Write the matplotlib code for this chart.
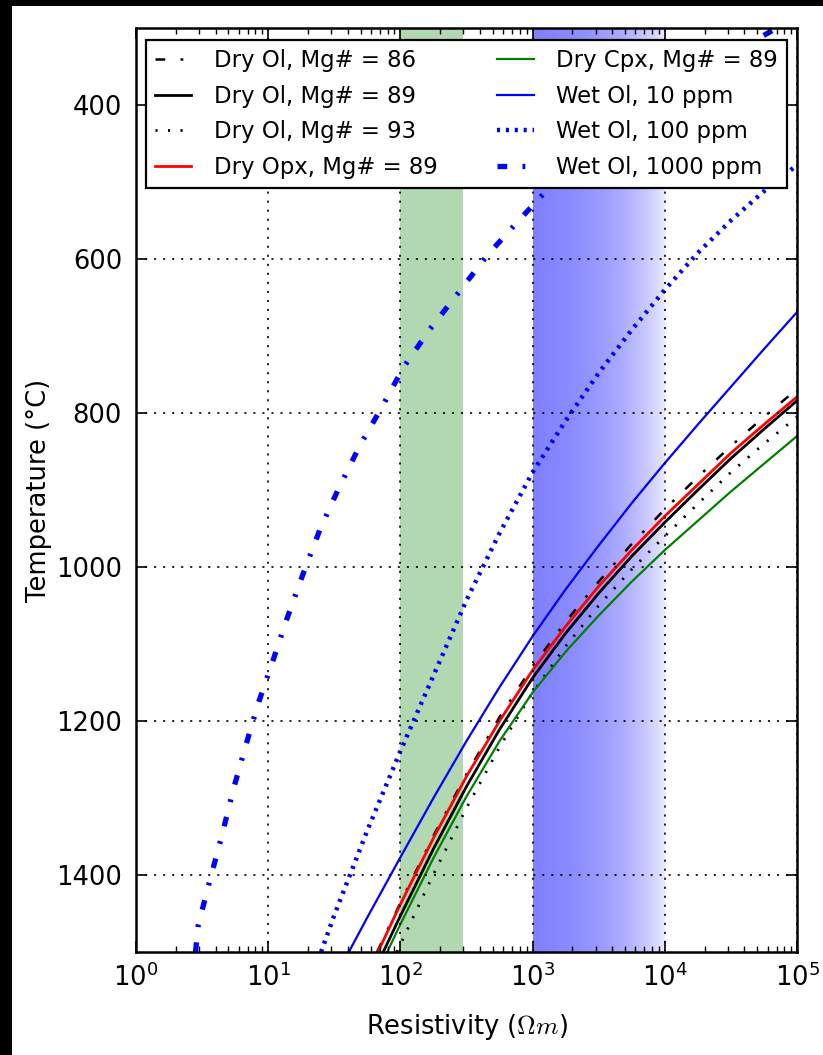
import numpy as np
import matplotlib
matplotlib.use('Agg')
import matplotlib.pyplot as plt
from matplotlib.patches import Rectangle

plt.rcParams['font.family'] = ['DejaVu Sans']
plt.rcParams['mathtext.fontset'] = 'cm'
plt.rcParams['lines.scale_dashes'] = False

# log10 resistivity (ohm m) and temperature (C) along each conductivity model
ol86_logrho = [1.823, 2.0, 2.25, 2.5, 2.75, 3.0, 3.25, 3.5, 3.75, 4.0, 4.25, 4.5, 4.75, 5.0]
ol86_T = [1500, 1436, 1349, 1269, 1195, 1129, 1071, 1019, 970, 925, 883, 843, 805, 769]

ol89_logrho = [1.87, 2.0, 2.25, 2.5, 2.75, 3.0, 3.25, 3.5, 3.75, 4.0, 4.25, 4.5, 4.75, 5.0]
ol89_T = [1500, 1453, 1366, 1285, 1211, 1144, 1086, 1034, 986, 942, 900, 859, 821, 784]

ol93_logrho = [1.973, 2.0, 2.25, 2.5, 2.75, 3.0, 3.25, 3.5, 3.75, 4.0, 4.25, 4.5, 4.75, 5.0]
ol93_T = [1500, 1490, 1399, 1313, 1234, 1163, 1103, 1050, 1003, 960, 918, 877, 840, 805]

opx89_logrho = [1.83, 2.0, 2.25, 2.5, 2.75, 3.0, 3.25, 3.5, 3.75, 4.0, 4.25, 4.5, 4.75, 5.0]
opx89_T = [1500, 1438, 1352, 1272, 1200, 1134, 1077, 1025, 978, 934, 893, 852, 815, 779]

cpx89_logrho = [1.90, 2.0, 2.25, 2.5, 2.75, 3.0, 3.25, 3.5, 3.75, 4.0, 4.25, 4.5, 4.75, 5.0]
cpx89_T = [1500, 1464, 1378, 1298, 1226, 1163, 1110, 1063, 1019, 978, 940, 902, 866, 830]

wet10_logrho = [1.61, 1.75, 2.0, 2.25, 2.5, 2.75, 3.0, 3.25, 3.5, 3.75, 4.0, 4.25, 4.5, 4.75, 5.0]
wet10_T = [1500, 1455, 1377, 1300, 1226, 1156, 1090, 1029, 972, 917, 865, 815, 766, 717, 669]

wet100_logrho = [1.4, 1.5, 1.75, 2.0, 2.25, 2.5, 2.75, 3.0, 3.25, 3.5, 3.75, 4.0, 4.25, 4.5, 4.75, 5.0]
wet100_T = [1500, 1452, 1342, 1239, 1141, 1043, 956, 877, 810, 748, 692, 640, 592, 550, 512, 478]

wet1000_logrho = [0.45, 0.471, 0.560, 0.648, 0.736, 0.825, 0.925, 1.039, 1.140, 1.266, 1.392,
                  1.530, 1.694, 1.858, 2.022, 2.224, 2.438, 2.653, 2.879, 3.117, 3.5, 4.0,
                  4.5, 4.85]
wet1000_T = [1500, 1465, 1406, 1350, 1289, 1235, 1177, 1120, 1068, 1008, 951,
             899, 842, 793, 741, 691, 644, 596, 553, 509, 448, 385,
             333, 300]

# resistivity windows
green_band = (100, 300)
blue_band = (1000, 10000)

fig = plt.figure(figsize=(8.23, 10.55), dpi=100, facecolor='black')
fig.add_artist(Rectangle((12 / 823, 0), 1 - 12 / 823, 1 - 6 / 1055,
                         transform=fig.transFigure, facecolor='white',
                         edgecolor='none', zorder=-10))

ax = fig.add_axes([136 / 823, 103 / 1055, 661 / 823, 924 / 1055])
ax.set_xscale('log')

ax.axvspan(*green_band, color='g', alpha=0.3, lw=0, zorder=1)

# blue band fading out towards higher resistivity
grad = np.zeros((1, 256, 4))
grad[..., 2] = 1.0
grad[..., 3] = np.linspace(0.5, 0.08, 256)
ax.imshow(grad, extent=[blue_band[0], blue_band[1], 1500, 300],
          aspect='auto', interpolation='bilinear', zorder=1)
ax.set_xlim(1, 1e5)
ax.set_ylim(1500, 300)

dashdot = (0, (7, 11, 2, 11))
dotk = (0, (1.5, 7.5))
dotb = (0, (2.2, 4.2))

def rho(logs):
    return 10 ** np.asarray(logs)

ax.plot(rho(ol86_logrho), ol86_T, color='k', lw=1.8, ls=dashdot, label='Dry Ol, Mg# = 86')
ax.plot(rho(ol89_logrho), ol89_T, color='k', lw=2.0, label='Dry Ol, Mg# = 89')
ax.plot(rho(ol93_logrho), ol93_T, color='k', lw=2.0, ls=dotk, label='Dry Ol, Mg# = 93')
ax.plot(rho(opx89_logrho), opx89_T, color='r', lw=2.0, label='Dry Opx, Mg# = 89')
ax.plot(rho(cpx89_logrho), cpx89_T, color='g', lw=1.6, label='Dry Cpx, Mg# = 89')
ax.plot(rho(wet10_logrho), wet10_T, color='b', lw=1.6, label='Wet Ol, 10 ppm')
ax.plot(rho(wet100_logrho), wet100_T, color='b', lw=3.2, ls=dotb, label='Wet Ol, 100 ppm')
ax.plot(rho(wet1000_logrho), wet1000_T, color='b', lw=3.8, ls=dashdot, label='Wet Ol, 1000 ppm')

ax.set_yticks([400, 600, 800, 1000, 1200, 1400])
ax.grid(True, which='major', color='k', ls=(0, (1.5, 5)), lw=1.2)
ax.set_axisbelow(False)

ax.tick_params(which='both', direction='in', top=True, right=True, labelsize=18.5)
ax.tick_params(which='major', length=8, width=1.2)
ax.tick_params(which='minor', length=4.5, width=1.0)
ax.tick_params(axis='y', pad=10)
ax.tick_params(axis='x', pad=8)
for sp in ax.spines.values():
    sp.set_linewidth(1.8)

ax.set_xlabel(r'Resistivity ($\Omega m$)', fontsize=18.5, labelpad=15)
ax.set_ylabel('Temperature (°C)', fontsize=18.5, labelpad=3)

leg = ax.legend(loc='upper center', bbox_to_anchor=(0.5, 0.987), ncol=2,
                fontsize=16.4, fancybox=False, framealpha=1, edgecolor='k',
                borderaxespad=0, handlelength=1.6, handletextpad=1.0,
                columnspacing=2.6, labelspacing=0.55, borderpad=0.4)
leg.get_frame().set_linewidth(1.6)

fig.savefig('out.png', dpi=100)
